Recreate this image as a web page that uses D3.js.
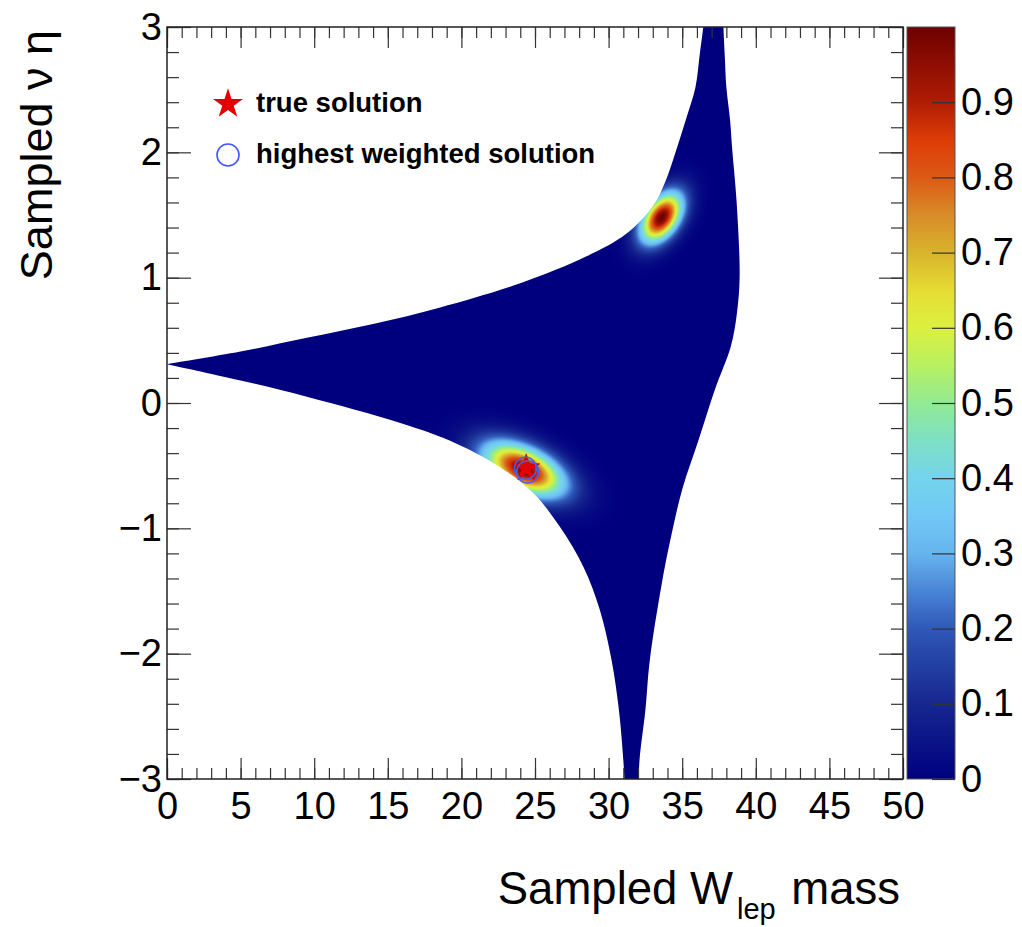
<!DOCTYPE html>
<html>
<head>
<meta charset="UTF-8">
<title>Sampled W lep mass vs sampled nu eta</title>
<style>
  body { margin: 0; background: #fff; }
  svg { display: block; font-family: "Liberation Sans", Arial, Helvetica, sans-serif; }
</style>
</head>
<body>
<svg></svg>
<script src="https://d3js.org/d3.v7.min.js"></script>
<script>
let width = 1022, height = 927;

// outline of the region with solutions (mass, eta)
let upperEdge = [[0,0.31],[5,0.41],[9.5,0.52],[14,0.63],[18.5,0.76],[24,0.955],[28.5,1.17],[31.2,1.35],
                 [33,1.57],[33.9,1.78],[34.6,2.02],[35.3,2.28],[35.9,2.52],[36.2,2.79],[36.43,3.0],[36.6,3.2]];
let rightEdge = [[37.75,3.2],[37.8,3.0],[37.9,2.75],[38.0,2.52],[38.25,2.26],[38.4,2.02],[38.7,1.6],[38.9,1.0],[38.7,0.7],
                 [38.3,0.45],[37.2,0.10],[36.1,-0.30],[35.0,-0.69],[34.2,-1.09],[33.6,-1.45],[32.8,-2.05],
                 [32.5,-2.45],[32.1,-2.85],[32.05,-3.0],[32.0,-3.2]];
let lowerEdge = [[31.1,-3.2],[31.07,-3.0],[31.0,-2.85],[30.7,-2.45],[30.2,-2.05],[29.4,-1.65],[28.3,-1.31],[26.7,-0.99],
                 [24.9,-0.72],[22.6,-0.51],[19.2,-0.30],[15.8,-0.157],[9.5,0.05],[5,0.18],[0,0.31]];

// weight peaks: centre, spread, correlation, height
let peakMass = [24.25, 33.6];
let peakEta  = [-0.53, 1.48];
let peakSigM = [1.9, 1.0];
let peakSigE = [0.15, 0.14];
let peakRho  = [-0.5, 0.45];
let peakVal  = [0.98, 1.0];

// markers
let trueSol = [[24.4, -0.52]];
let bestSol = [[24.35, -0.52], [24.5, -0.55]];

// palette
let palStops  = [0, 0.1, 0.2, 0.25, 0.3, 0.35, 0.4, 0.45, 0.5, 0.55, 0.6, 0.65, 0.7, 0.75, 0.8, 0.85, 0.9, 1.0];
let palColors = ["#00007f","#16278f","#2f58b8","#4a84d6","#66b4ee","#70c8f6","#74d4ec","#7ee0c4","#92ea94",
                 "#b8f060","#dcf040","#e6dc34","#d8b42c","#d88c28","#dc5a16","#dd3c06","#b01c04","#6e0000"];

let xTicks = d3.range(0, 51, 5), xMinor = d3.range(0, 51, 1);
let yTicks = [-3,-2,-1,0,1,2,3], yMinor = d3.range(-15, 16).map(d => d / 5);
let zTicks = [0,0.1,0.2,0.3,0.4,0.5,0.6,0.7,0.8,0.9];

let svg = d3.select("svg").attr("width", width).attr("height", height);

let pL = 167, pR = 903, pT = 27, pB = 779;
let x = d3.scaleLinear().domain([0, 50]).range([pL, pR]);
let y = d3.scaleLinear().domain([-3, 3]).range([pB, pT]);
let z = d3.scaleLinear().domain([0, 1]).range([pB, pT]);
let color = d3.scaleLinear().domain(palStops).range(palColors).interpolate(d3.interpolateRgb).clamp(true);

// heat map on a canvas
let cw = pR - pL, ch = pB - pT;
let canvas = document.createElement("canvas");
canvas.width = cw; canvas.height = ch;
let ctx = canvas.getContext("2d");
let img = ctx.createImageData(cw, ch);
for (let j = 0; j < ch; j++) {
  let ev = y.invert(pT + j + 0.5);
  for (let i = 0; i < cw; i++) {
    let mv = x.invert(pL + i + 0.5);
    let v = 0;
    for (let k = 0; k < peakVal.length; k++) {
      let a = (mv - peakMass[k]) / peakSigM[k], b = (ev - peakEta[k]) / peakSigE[k], r = peakRho[k];
      let q = (a * a - 2 * r * a * b + b * b) / (1 - r * r);
      v = Math.max(v, peakVal[k] * Math.exp(-0.5 * q));
    }
    let c = d3.rgb(color(v));
    let p = (j * cw + i) * 4;
    img.data[p] = c.r; img.data[p+1] = c.g; img.data[p+2] = c.b; img.data[p+3] = 255;
  }
}
ctx.putImageData(img, 0, 0);

let outline = upperEdge.concat(rightEdge, lowerEdge);
let line = d3.line().x(d => x(d[0])).y(d => y(d[1])).curve(d3.curveCatmullRom);

let defs = svg.append("defs");
defs.append("clipPath").attr("id", "frameClip")
  .append("rect").attr("x", pL).attr("y", pT).attr("width", cw).attr("height", ch);
defs.append("clipPath").attr("id", "shapeClip")
  .append("path").attr("d", line(outline) + "Z");

svg.append("g").attr("clip-path", "url(#frameClip)")
  .append("image")
  .attr("x", pL).attr("y", pT).attr("width", cw).attr("height", ch)
  .attr("preserveAspectRatio", "none")
  .attr("href", canvas.toDataURL())
  .attr("clip-path", "url(#shapeClip)");

// axes
let fmt = d3.format("~g");
function styleAxis(g) {
  g.select(".domain").remove();
  g.selectAll(".tick line").attr("stroke", "#333").attr("stroke-width", 1.2);
  g.selectAll("text").attr("font-size", 38).attr("fill", "#000").attr("font-family", null);
}
svg.append("g").attr("transform", `translate(0,${pB})`)
  .call(d3.axisBottom(x).tickValues(xMinor).tickSize(-11).tickFormat("")).call(styleAxis);
svg.append("g").attr("transform", `translate(0,${pB})`)
  .call(d3.axisBottom(x).tickValues(xTicks).tickSize(-21).tickPadding(13).tickFormat(fmt)).call(styleAxis);
svg.append("g").attr("transform", `translate(0,${pT})`)
  .call(d3.axisTop(x).tickValues(xMinor).tickSize(-11).tickFormat("")).call(styleAxis);
svg.append("g").attr("transform", `translate(0,${pT})`)
  .call(d3.axisTop(x).tickValues(xTicks).tickSize(-21).tickFormat("")).call(styleAxis);

svg.append("g").attr("transform", `translate(${pL},0)`)
  .call(d3.axisLeft(y).tickValues(yMinor).tickSize(-12).tickFormat("")).call(styleAxis);
svg.append("g").attr("transform", `translate(${pL},0)`)
  .call(d3.axisLeft(y).tickValues(yTicks).tickSize(-24).tickPadding(5).tickFormat(fmt)).call(styleAxis);
svg.append("g").attr("transform", `translate(${pR},0)`)
  .call(d3.axisRight(y).tickValues(yMinor).tickSize(-12).tickFormat("")).call(styleAxis);
svg.append("g").attr("transform", `translate(${pR},0)`)
  .call(d3.axisRight(y).tickValues(yTicks).tickSize(-24).tickFormat("")).call(styleAxis);

svg.append("rect").attr("x", pL).attr("y", pT).attr("width", cw).attr("height", ch)
  .attr("fill", "none").attr("stroke", "#222").attr("stroke-width", 1.5);

// colour bar
let cbLeft = 907, cbRight = 955;
let grad = defs.append("linearGradient").attr("id", "pal")
  .attr("x1", 0).attr("y1", 1).attr("x2", 0).attr("y2", 0);
grad.selectAll("stop").data(palStops).enter().append("stop")
  .attr("offset", d => d).attr("stop-color", (d, i) => palColors[i]);
svg.append("rect").attr("x", cbLeft).attr("y", pT).attr("width", cbRight - cbLeft).attr("height", ch)
  .attr("fill", "url(#pal)").attr("stroke", "#555").attr("stroke-width", 1);
svg.append("g").attr("transform", `translate(${cbRight},0)`)
  .call(d3.axisRight(z).tickValues(zTicks).tickSize(-23).tickPadding(6).tickFormat(fmt))
  .call(styleAxis);

// axis titles
svg.append("text").attr("x", 900).attr("y", 904).attr("text-anchor", "end")
  .attr("font-size", 45.5)
  .html('Sampled W<tspan dx="4" dy="15" font-size="29">lep</tspan><tspan dx="3" dy="-15"> mass</tspan>');
svg.append("text").attr("transform", `translate(52,${pT + 3}) rotate(-90)`).attr("text-anchor", "end")
  .attr("font-size", 45).text("Sampled ν η");

// markers
let star = d3.symbol().type(d3.symbolStar).size(230);
svg.selectAll(".truth").data(trueSol).enter().append("path")
  .attr("transform", d => `translate(${x(d[0])},${y(d[1])})`)
  .attr("d", star).attr("fill", "#e30000").attr("stroke", "#8a1010").attr("stroke-width", 0.6);
svg.selectAll(".best").data(bestSol).enter().append("circle")
  .attr("cx", d => x(d[0])).attr("cy", d => y(d[1])).attr("r", 11)
  .attr("fill", "none").attr("stroke", "#4a5cf0").attr("stroke-width", 1.4);

// legend
let legend = svg.append("g");
legend.append("path").attr("transform", "translate(228,104)")
  .attr("d", d3.symbol().type(d3.symbolStar).size(280)).attr("fill", "#e30000");
legend.append("circle").attr("cx", 228).attr("cy", 155).attr("r", 11)
  .attr("fill", "none").attr("stroke", "#3f55ff").attr("stroke-width", 1.6);
legend.append("text").attr("x", 256).attr("y", 112).attr("font-size", 27.5).attr("font-weight", "bold")
  .text("true solution");
legend.append("text").attr("x", 256).attr("y", 163).attr("font-size", 27.5).attr("font-weight", "bold")
  .text("highest weighted solution");
</script>
</body>
</html>
